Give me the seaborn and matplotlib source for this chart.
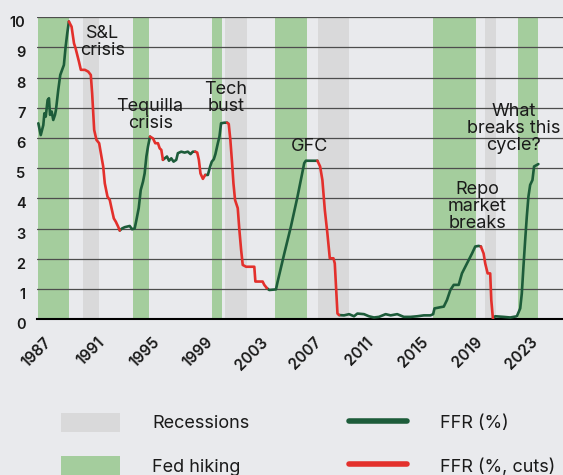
import matplotlib
matplotlib.use("Agg")
import matplotlib.pyplot as plt
import matplotlib.transforms as mtransforms
import seaborn as sns
import pandas as pd
from matplotlib.patches import Patch
from matplotlib.lines import Line2D

# Fed funds rate (x in years, y in %)
ffr_year = [
    1987.12, 1987.30, 1987.49, 1987.57, 1987.67, 1987.81, 1987.91, 1987.99, 1988.11, 1988.23,
    1988.36, 1988.43, 1988.60, 1988.75, 1988.93, 1989.02, 1989.15, 1989.27, 1989.39,
    1989.59, 1989.77, 1989.89, 1990.14, 1990.28, 1990.58, 1990.83, 1991.02, 1991.12, 1991.27,
    1991.44, 1991.64, 1991.81, 1991.94, 1992.06, 1992.26, 1992.43, 1992.56, 1992.73, 1992.88,
    1993.05, 1993.17,
    1993.35, 1993.54, 1993.91, 1994.09, 1994.28, 1994.41, 1994.58, 1994.73, 1994.90, 1995.02,
    1995.15, 1995.27, 1995.42,
    1995.64, 1995.81, 1996.01, 1996.14, 1996.26, 1996.38,
    1996.68, 1996.83, 1997.00, 1997.17, 1997.37, 1997.49, 1997.74, 1997.99, 1998.23, 1998.43,
    1998.60, 1998.78,
    1998.93, 1999.05, 1999.17, 1999.35, 1999.52,
    1999.72, 1999.89, 2000.01, 2000.16, 2000.28, 2000.46, 2000.58, 2000.70, 2000.95, 2001.15,
    2001.27, 2001.39, 2001.52, 2001.62, 2001.74, 2001.94, 2002.06, 2002.19, 2002.31, 2002.56,
    2003.17, 2003.25, 2003.79, 2003.91, 2004.11,
    2004.28, 2004.78, 2004.90, 2005.40, 2005.89, 2006.38, 2006.88, 2007.00, 2007.86,
    2008.06, 2008.23, 2008.41, 2008.60, 2008.78, 2009.05, 2009.15, 2009.35, 2009.47,
    2009.84, 2010.21, 2010.58, 2010.83, 2011.32, 2011.69, 2012.06, 2012.43, 2012.93, 2013.30,
    2013.79, 2014.28, 2014.78, 2015.27, 2015.77, 2016.26, 2016.46, 2016.56, 2017.00, 2017.25,
    2017.49, 2017.74, 2017.99, 2018.36, 2018.60, 2018.85, 2019.10, 2019.35, 2019.59, 2019.84,
    2020.01,
    2020.21, 2020.33, 2020.51, 2020.70, 2020.78, 2020.90,
    2021.07, 2021.69, 2022.19, 2022.68, 2022.93, 2023.05, 2023.17, 2023.30, 2023.42, 2023.54,
    2023.67, 2023.84, 2023.96, 2024.16, 2024.28,
]
ffr_rate = [
    6.49, 6.10, 6.43, 6.82, 6.71, 7.26, 7.32, 6.77, 6.88, 6.60,
    6.77, 6.93, 7.59, 8.09, 8.31, 8.42, 9.03, 9.47, 9.86,
    9.69, 9.14, 8.97, 8.53, 8.26, 8.26, 8.20, 8.09, 7.48, 6.27,
    5.94, 5.83, 5.39, 5.06, 4.50, 4.06, 3.95, 3.68, 3.34, 3.23,
    3.07, 2.94,
    3.01, 3.05, 3.09, 2.98, 3.01, 3.29, 3.68, 4.28, 4.56, 4.83,
    5.39, 5.72, 6.05,
    5.99, 5.83, 5.83, 5.66, 5.61, 5.28,
    5.39, 5.25, 5.33, 5.22, 5.28, 5.50, 5.55, 5.52, 5.55, 5.47,
    5.55, 5.55,
    5.52, 5.28, 4.83, 4.65, 4.78,
    4.78, 5.06, 5.22, 5.30, 5.47, 5.83, 6.05, 6.49, 6.51, 6.51,
    6.47, 5.94, 5.17, 4.50, 3.95, 3.68, 2.96, 2.30, 1.80, 1.74,
    1.74, 1.25, 1.25, 1.14, 1.03,
    0.97, 0.99, 1.24, 2.18, 3.07, 4.06, 5.17, 5.25, 5.25,
    5.06, 4.61, 3.62, 2.85, 2.02, 2.02, 1.85, 0.19, 0.14,
    0.13, 0.17, 0.10, 0.19, 0.17, 0.10, 0.06, 0.08, 0.17, 0.13,
    0.17, 0.08, 0.08, 0.10, 0.13, 0.13, 0.17, 0.36, 0.40, 0.42,
    0.64, 0.97, 1.14, 1.14, 1.52, 1.74, 1.96, 2.18, 2.41, 2.43,
    2.41,
    2.18, 1.85, 1.52, 1.52, 0.64, 0.03,
    0.10, 0.08, 0.06, 0.10, 0.36, 0.86, 1.74, 2.63, 3.40, 4.06,
    4.45, 4.61, 5.06, 5.11, 5.14,
]

# periods where the line is drawn red (rate cuts)
cut_periods = [(1989.39, 1993.17), (1995.42, 1996.38), (1998.78, 1999.52),
               (2001.15, 2004.11), (2007.86, 2009.47), (2020.01, 2020.90)]

hike_periods = [(1987.13, 1989.42), (1994.19, 1995.35), (2000.06, 2000.80),
                (2004.73, 2007.05), (2016.46, 2019.61), (2022.73, 2024.24)]
recessions = [(1990.46, 1991.64), (2001.02, 2002.63), (2007.87, 2010.21), (2020.33, 2021.15)]

tick_years = [1987, 1991, 1995, 1999, 2003, 2007, 2011, 2015, 2019, 2023]

notes = ["S&L\ncrisis", "Tequilla\ncrisis", "Tech\nbust", "GFC",
         "Repo\nmarket\nbreaks", "What\nbreaks this\ncycle?"]
note_x = [1991.89, 1995.43, 2001.04, 2007.30, 2019.72, 2022.43]
note_y = [9.18, 6.75, 7.32, 5.73, 3.72, 6.31]

BG = "#e9eaed"
HIKE = "#a4cd9d"
REC = "#d9d9da"
GREEN = "#1d5c3a"
RED = "#e3302c"
TXT = "#1a1a1a"

sns.set_theme(style="white")
plt.rcParams["font.family"] = ["Inter", "DejaVu Sans"]

# split the series into green / red pieces
rows = []
seg = 0
cur = None
for i in range(len(ffr_year) - 1):
    y0, y1 = ffr_year[i], ffr_year[i + 1]
    is_cut = any(s <= y0 and y1 <= e for s, e in cut_periods)
    phase = "cut" if is_cut else "hike"
    if phase != cur:
        seg += 1
        cur = phase
        rows.append((seg, phase, y0, ffr_rate[i]))
    rows.append((seg, phase, y1, ffr_rate[i + 1]))
df = pd.DataFrame(rows, columns=["segment", "phase", "year", "rate"])

fig = plt.figure(figsize=(5.63, 4.75), dpi=100, facecolor=BG)
ax = fig.add_axes([0.0652, 0.3278, 0.9348, 0.6358])
ax.set_facecolor(BG)

for a, b in hike_periods:
    ax.axvspan(a, b, color=HIKE, lw=0, zorder=0.5)
for a, b in recessions:
    ax.axvspan(a, b, color=REC, lw=0, zorder=0.5)

sns.lineplot(data=df, x="year", y="rate", hue="phase", units="segment",
             estimator=None, sort=False, palette={"hike": GREEN, "cut": RED},
             linewidth=1.9, legend=False, ax=ax, zorder=3)

for s, x, y in zip(notes, note_x, note_y):
    ax.text(x, y, s, ha="center", va="center", fontsize=13, linespacing=1.0,
            color=TXT, zorder=4)

ax.set_xlim(1987.126, 2026.11)
ax.set_ylim(0, 10)
ax.set_yticks(range(11))
ax.set_xticks(tick_years)
ax.set_xticklabels([str(t) for t in tick_years], rotation=45, ha="center")
ax.yaxis.grid(True, color="#4d4d4d", lw=0.9)
ax.xaxis.grid(False)
ax.set_axisbelow("line")
ax.tick_params(axis="both", length=0, colors=TXT)
ax.tick_params(axis="y", pad=8, labelsize=10.5)
ax.tick_params(axis="x", pad=11, labelsize=11)
for lab in ax.get_xticklabels() + ax.get_yticklabels():
    lab.set_fontweight("semibold")
# y labels sit a little below their gridlines in the original
shift = mtransforms.ScaledTranslation(0, -0.045, fig.dpi_scale_trans)
for lab in ax.get_yticklabels():
    lab.set_transform(lab.get_transform() + shift)
for side in ["top", "left", "right"]:
    ax.spines[side].set_visible(False)
ax.spines["bottom"].set_color("black")
ax.spines["bottom"].set_linewidth(1.5)
ax.set_xlabel("")
ax.set_ylabel("")

handles = [Patch(color=REC, lw=0), Patch(color=HIKE, lw=0),
           Line2D([], [], color=GREEN, lw=4, solid_capstyle="round"),
           Line2D([], [], color=RED, lw=4, solid_capstyle="round")]
labels = ["Recessions", "Fed hiking", "FFR (%)", "FFR (%, cuts)"]
leg = fig.legend(handles, labels, ncol=2, loc="upper left",
                 bbox_to_anchor=(61 / 563, 1 - 413 / 475), frameon=False,
                 handlelength=3.25, handleheight=1.22, handletextpad=1.8,
                 columnspacing=5.5, labelspacing=1.33, fontsize=13,
                 borderpad=0, borderaxespad=0)
for t in leg.get_texts():
    t.set_color(TXT)

fig.savefig("out.png", dpi=100, facecolor=BG)
